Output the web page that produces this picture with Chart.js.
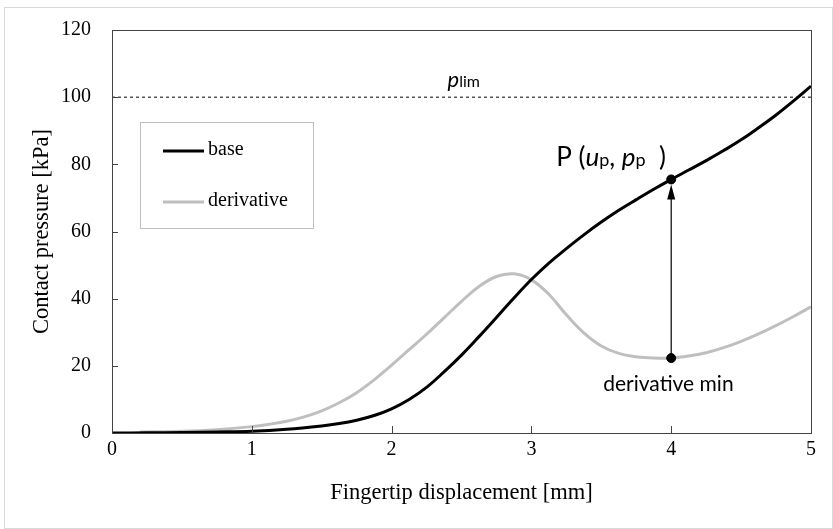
<!DOCTYPE html>
<html>
<head>
<meta charset="utf-8">
<script src="https://cdn.jsdelivr.net/npm/chart.js@4.4.1/dist/chart.umd.min.js"></script>
<style>
  html, body { margin: 0; padding: 0; background: #fff; }
  #wrap { width: 833px; height: 529px; position: relative; }
</style>
</head>
<body>
<div id="wrap"><canvas id="myChart" width="833" height="529"></canvas></div>
<script>
// values
const baseU = [0, 0.25, 0.5, 0.75, 1, 1.25, 1.5, 1.625, 1.75, 1.875, 2, 2.125, 2.25, 2.375, 2.5, 2.625, 2.75, 2.875, 3, 3.125, 3.25, 3.375, 3.5, 3.625, 3.75, 3.875, 4, 4.125, 4.25, 4.375, 4.5, 4.625, 4.75, 4.875, 5]
const basePressure = [0, 0.05, 0.15, 0.3, 0.5, 1.1, 2.1, 2.8, 3.8, 5.2, 7.2, 10, 13.6, 18.2, 23.2, 28.7, 34.4, 40.2, 45.7, 50.6, 54.9, 59, 62.8, 66.3, 69.5, 72.6, 75.5, 78.3, 81.1, 84.1, 87.3, 90.9, 94.7, 98.9, 103.3]

const derivU = [0.2, 0.5, 0.75, 1, 1.125, 1.25, 1.375, 1.5, 1.625, 1.75, 1.875, 2, 2.125, 2.25, 2.375, 2.5, 2.625, 2.75, 2.875, 3, 3.125, 3.25, 3.375, 3.5, 3.625, 3.75, 3.875, 4, 4.125, 4.25, 4.375, 4.5, 4.625, 4.75, 4.875, 5]
const derivPressure = [0.3, 0.5, 1.0, 1.9, 2.6, 3.5, 4.8, 6.6, 9.0, 12.0, 15.8, 20.2, 24.8, 29.4, 34.3, 39.2, 43.6, 46.6, 47.4, 45.6, 41.3, 35.2, 29.8, 25.9, 23.7, 22.7, 22.3, 22.3, 22.9, 23.9, 25.4, 27.3, 29.5, 32.0, 34.7, 37.6]

const limitPressure = 100
const peakU = 4
const peakPressure = 75.5
const minPressure = 22.3

const xTicks = [0, 1, 2, 3, 4, 5]
const yTicks = [0, 20, 40, 60, 80, 100, 120]
const legendOrder = ['base', 'derivative']

const serif = "'Liberation Serif', 'Times New Roman', serif"
const sans = "Lato, 'Open Sans', sans-serif"

function toPoints(xs, ys) {
    return xs.map((x, i) => ({ x: x, y: ys[i] }))
}

// frame, inward ticks, legend, arrow and labels
const extras = {
    id: 'extras',
    beforeDraw(chart) {
        let ctx = chart.ctx
        ctx.save()
        ctx.fillStyle = '#fff'
        ctx.fillRect(0, 0, chart.width, chart.height)
        ctx.strokeStyle = '#d9d9d9'
        ctx.lineWidth = 1
        ctx.strokeRect(4.5, 7.5, chart.width - 5, chart.height - 8)
        ctx.restore()
    },
    afterDatasetsDraw(chart) {
        let ctx = chart.ctx
        let a = chart.chartArea
        let xs = chart.scales.x
        let ys = chart.scales.y
        ctx.save()

        // box
        ctx.strokeStyle = '#444'
        ctx.lineWidth = 1
        ctx.strokeRect(Math.round(a.left) + 0.5, Math.round(a.top) + 0.5, Math.round(a.right - a.left), Math.round(a.bottom - a.top))

        // inward ticks
        ctx.beginPath()
        yTicks.forEach(v => {
            let py = Math.round(ys.getPixelForValue(v)) + 0.5
            ctx.moveTo(a.left, py)
            ctx.lineTo(a.left + 6, py)
        })
        xTicks.forEach(v => {
            let px = Math.round(xs.getPixelForValue(v)) + 0.5
            ctx.moveTo(px, a.bottom)
            ctx.lineTo(px, a.bottom - 7)
        })
        ctx.stroke()

        // arrow from derivative min up to P
        let ax = xs.getPixelForValue(peakU)
        let y1 = ys.getPixelForValue(minPressure)
        let y2 = ys.getPixelForValue(peakPressure)
        ctx.strokeStyle = '#000'
        ctx.fillStyle = '#000'
        ctx.lineWidth = 1.2
        ctx.beginPath()
        ctx.moveTo(ax, y1)
        ctx.lineTo(ax, y2 + 18)
        ctx.stroke()
        ctx.beginPath()
        ctx.moveTo(ax, y2 + 5)
        ctx.lineTo(ax - 4, y2 + 20)
        ctx.lineTo(ax + 4, y2 + 20)
        ctx.closePath()
        ctx.fill()

        // P (up, pp) label
        let tx = ax - 115
        let ty = y2 - 13
        ctx.textBaseline = 'alphabetic'
        ctx.textAlign = 'left'
        let parts = [
            ['P (', '26px ' + sans],
            ['u', 'italic 26px ' + sans],
            ['p', '18px ' + sans],
            [', ', '26px ' + sans],
            ['p', 'italic 26px ' + sans],
            ['p', '18px ' + sans],
            ['  )', '26px ' + sans]
        ]
        parts.forEach(p => {
            ctx.font = p[1]
            ctx.fillText(p[0], tx, ty)
            tx += ctx.measureText(p[0]).width
        })

        // derivative min label
        ctx.font = '21px ' + sans
        ctx.fillText('derivative min', ax - 68, y1 + 33)

        // p_lim label
        let ly = ys.getPixelForValue(limitPressure)
        let lx = xs.getPixelForValue(2.4)
        ctx.font = 'italic 22px ' + sans
        ctx.fillText('p', lx, ly - 10)
        let w = ctx.measureText('p').width
        ctx.font = '16px ' + sans
        ctx.fillText('lim', lx + w, ly - 10)

        // legend
        ctx.strokeStyle = '#bfbfbf'
        ctx.lineWidth = 1
        ctx.strokeRect(140.5, 122.5, 173, 106)
        ctx.font = '20px ' + serif
        let rows = [151, 202]
        legendOrder.forEach((name, i) => {
            let d = chart.data.datasets.find(ds => ds.label == name)
            ctx.strokeStyle = d.borderColor
            ctx.lineWidth = d.borderWidth
            ctx.beginPath()
            ctx.moveTo(163, rows[i])
            ctx.lineTo(204, rows[i])
            ctx.stroke()
            ctx.fillStyle = '#000'
            ctx.textBaseline = 'middle'
            ctx.fillText(d.label, 208, rows[i] - 1)
        })
        ctx.restore()
    }
}

let ctx = document.getElementById('myChart').getContext('2d')
let myChart = new Chart(ctx, {
    type: 'line',
    data: {
        datasets: [
            {
                label: 'limit',
                data: toPoints([0, 5], [limitPressure, limitPressure]),
                borderColor: '#000',
                borderWidth: 1,
                borderDash: [3, 3],
                pointRadius: 0,
                order: 3
            },
            {
                label: 'derivative',
                data: toPoints(derivU, derivPressure),
                borderColor: '#bfbfbf',
                borderWidth: 3,
                pointRadius: 0,
                tension: 0.4,
                order: 2
            },
            {
                label: 'base',
                data: toPoints(baseU, basePressure),
                borderColor: '#000',
                borderWidth: 3,
                pointRadius: 0,
                tension: 0.4,
                order: 1
            },
            {
                label: 'marks',
                type: 'scatter',
                data: toPoints([peakU, peakU], [peakPressure, minPressure]),
                backgroundColor: '#000',
                borderColor: '#000',
                pointRadius: 4.5,
                order: 0
            }
        ]
    },
    options: {
        responsive: false,
        animation: false,
        devicePixelRatio: 1,
        layout: { padding: { top: 30, right: 22, left: 0, bottom: 0 } },
        plugins: {
            legend: { display: false },
            tooltip: { enabled: false }
        },
        scales: {
            x: {
                type: 'linear',
                min: 0,
                max: 5,
                afterFit: s => { s.height = 96 },
                afterBuildTicks: s => { s.ticks = xTicks.map(v => ({ value: v })) },
                ticks: { font: { family: serif, size: 20 }, color: '#000', padding: -3, maxRotation: 0 },
                grid: { display: false },
                border: { display: false },
                title: {
                    display: true,
                    text: 'Fingertip displacement [mm]',
                    font: { family: serif, size: 22.5 },
                    color: '#000',
                    padding: { top: 0, bottom: 22.5 }
                }
            },
            y: {
                min: 0,
                max: 120,
                afterFit: s => { s.width = 112 },
                afterBuildTicks: s => { s.ticks = yTicks.map(v => ({ value: v })) },
                ticks: { font: { family: serif, size: 20 }, color: '#000', padding: 13 },
                grid: { display: false },
                border: { display: false },
                title: {
                    display: true,
                    text: 'Contact pressure [kPa]',
                    font: { family: serif, size: 22.5 },
                    color: '#000',
                    padding: { top: 28.5, bottom: 0 }
                }
            }
        }
    },
    plugins: [extras]
})
</script>
</body>
</html>
